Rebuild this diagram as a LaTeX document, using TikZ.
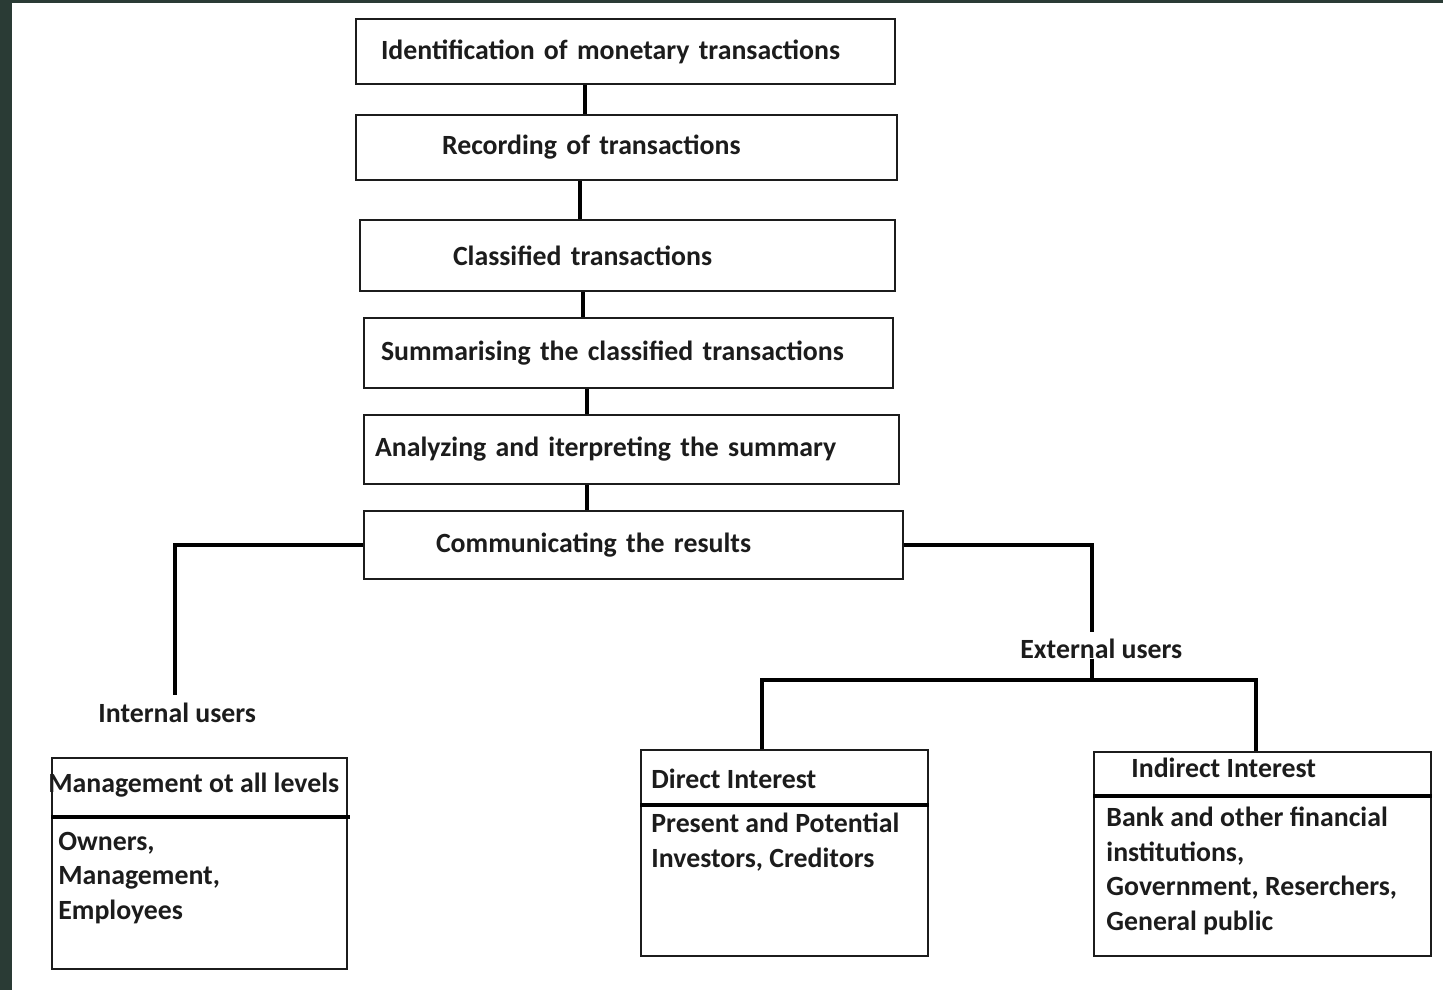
\documentclass[tikz,border=0pt]{standalone}
\usepackage{fontspec}
\setmainfont{Carlito}
\usetikzlibrary{positioning}
\definecolor{framegreen}{HTML}{2A3B35}
\definecolor{inkgray}{HTML}{1C1C1C}
\tikzset{
  stepbox/.style={draw=inkgray, line width=1pt, inner xsep=0pt, inner ysep=0pt, anchor=north west, align=left, font=\fontsize{13.9pt}{17.25pt}\selectfont\bfseries, text=inkgray},
  userbox/.style={draw=inkgray, line width=1pt, anchor=north west, inner sep=0pt},
  usertext/.style={inner sep=0pt, align=left, font=\fontsize{13.9pt}{17.25pt}\selectfont\bfseries, text=inkgray},
  link/.style={line width=2pt},
  divider/.style={line width=1.6pt},
}
\begin{document}
\begin{tikzpicture}[x=0.5pt, y=-0.5pt]
  \useasboundingbox (0,0) rectangle (1443,990);
  \fill[white] (0,0) rectangle (1443,990);
  \fill[framegreen] (0,0) rectangle (12,990);
  \fill[framegreen] (0,0) rectangle (1443,3);

  \node[stepbox, text width=269.5pt, minimum height=32.5pt] (ident) at (355,18) {\hspace*{12.5pt}Identification of monetary transactions};
  \node[stepbox, text width=270.5pt, minimum height=32.5pt] (record) at (355,114) {\hspace*{43pt}Recording of transactions};
  \node[stepbox, text width=267.5pt, minimum height=35.5pt] (classify) at (359,219) {\hspace*{46.5pt}Classified transactions};
  \node[stepbox, text width=264.5pt, minimum height=35pt] (summary) at (363,317) {\hspace*{8.5pt}Summarising the classified transactions};
  \node[stepbox, text width=267.5pt, minimum height=34.5pt] (analyze) at (363,414) {\hspace*{5.5pt}Analyzing and iterpreting the summary};
  \node[stepbox, text width=269.5pt, minimum height=34pt] (comm) at (363,510) {\hspace*{36pt}Communicating the results};

  \foreach \a/\b/\x in {ident/record/585, record/classify/580, classify/summary/583, summary/analyze/587, analyze/comm/587}
    \draw[link] (\x,0 |- \a.south) -- (\x,0 |- \b.north);

  \node[usertext, anchor=base west] (intl) at (98,722) {Internal users};
  \node[usertext, anchor=base west] (extl) at (1020,658) {External users};
  \coordinate (split) at (1092,680);

  % user groups
  \node[userbox, minimum width=147.5pt, minimum height=105.5pt] (mgmt) at (51,757) {};
  \draw[divider] (mgmt.west |- 0,817) -- (350,817);
  \node[usertext, anchor=base west] (mgmthead) at (48,792) {Management ot all levels};
  \node[usertext, anchor=base west] (mgmtbody) at (58,919) {Owners,\\Management,\\Employees};

  \node[userbox, minimum width=143.5pt, minimum height=103pt] (direct) at (640,749) {};
  \draw[divider] (direct.west |- 0,805) -- (direct.east |- 0,805);
  \node[usertext, anchor=base west] (directhead) at (651,788) {Direct Interest};
  \node[usertext, anchor=base west] (directbody) at (651,867) {Present and Potential\\Investors, Creditors};

  \node[userbox, minimum width=168.5pt, minimum height=102pt] (indirect) at (1093,751) {};
  \draw[divider] (indirect.west |- 0,796) -- (1432,796);
  \node[usertext, anchor=base west] (indirecthead) at (1131,777) {Indirect Interest};
  \node[usertext, anchor=base west] (indirectbody) at (1106,930) {Bank and other financial\\institutions,\\Government, Reserchers,\\General public};

  \draw[link] (comm.west) -| (175,695);
  \draw[link] (comm.east) -| (1092,632);
  \draw[link] (1092,0 |- extl.south) -- (split);
  \draw[link] (762,0 |- direct.north) |- (split) -| (1256,0 |- indirect.north);
\end{tikzpicture}
\end{document}
